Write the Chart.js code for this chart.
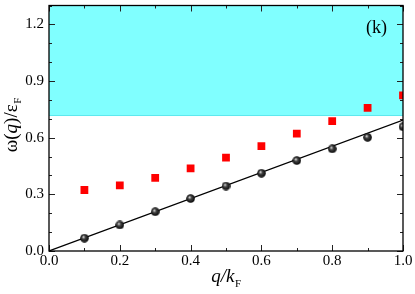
<!DOCTYPE html>
<html lang="en">
<head>
<meta charset="UTF-8">
<title>omega(q) dispersion</title>
<script src="https://cdn.jsdelivr.net/npm/chart.js"></script>
<style>
    html, body { margin: 0; padding: 0; background: #fff; }
    #wrap { width: 415px; height: 294px; }
</style>
</head>
<body>
<div id="wrap"><canvas id="chart" width="415" height="294"></canvas></div>
<script>
    // data
    const qValues = [0.1, 0.2, 0.3, 0.4, 0.5, 0.6, 0.7, 0.8, 0.9, 1.0];
    const blackValues = [0.068, 0.138, 0.208, 0.278, 0.344, 0.412, 0.479, 0.541, 0.602, 0.658];
    const redValues = [0.323, 0.348, 0.387, 0.437, 0.494, 0.555, 0.621, 0.688, 0.758, 0.824];
    const lineX = [0, 1.0];
    const lineY = [0, 0.693];
    const bandStart = 0.72;
    const xTicks = [0, 0.2, 0.4, 0.6, 0.8, 1.0];
    const yTicks = [0, 0.3, 0.6, 0.9, 1.2];

    const serif = '"Liberation Serif", "DejaVu Serif", serif';

    // shaded sphere marker
    function makeSphere(d) {
        const c = document.createElement('canvas');
        c.width = d; c.height = d;
        const g = c.getContext('2d');
        const r = d / 2;
        const grad = g.createRadialGradient(r * 0.75, r * 0.7, 0.3, r, r, r);
        grad.addColorStop(0, '#d8d8d8');
        grad.addColorStop(0.35, '#444');
        grad.addColorStop(1, '#000');
        g.fillStyle = grad;
        g.beginPath();
        g.arc(r, r, r - 0.2, 0, Math.PI * 2);
        g.fill();
        return c;
    }
    const sphere = makeSphere(9);

    // cyan region above bandStart
    const bandPlugin = {
        id: 'band',
        beforeDatasetsDraw(chart) {
            const { ctx, chartArea, scales } = chart;
            const y0 = scales.y.getPixelForValue(bandStart);
            ctx.save();
            ctx.fillStyle = '#80ffff';
            ctx.fillRect(chartArea.left, chartArea.top, chartArea.right - chartArea.left, y0 - chartArea.top);
            ctx.strokeStyle = '#5ce8ee';
            ctx.lineWidth = 1;
            ctx.beginPath();
            ctx.moveTo(chartArea.left, y0 + 0.5);
            ctx.lineTo(chartArea.right, y0 + 0.5);
            ctx.stroke();
            ctx.restore();
        }
    };

    // frame, inward ticks, titles, panel label
    const framePlugin = {
        id: 'frame',
        afterDraw(chart) {
            const { ctx, chartArea: a, scales } = chart;
            ctx.save();
            ctx.strokeStyle = '#222';
            ctx.lineWidth = 1;
            for (let i = 0; i <= 10; i++) {
                const v = i / 10;
                const x = Math.round(scales.x.getPixelForValue(v)) + 0.5;
                const len = i % 2 === 0 ? 6 : 3;
                ctx.beginPath();
                ctx.moveTo(x, a.bottom); ctx.lineTo(x, a.bottom - len);
                ctx.moveTo(x, a.top); ctx.lineTo(x, a.top + len);
                ctx.stroke();
            }
            for (let i = 0; i <= 13; i++) {
                const v = i / 10;
                const y = Math.round(scales.y.getPixelForValue(v)) + 0.5;
                const len = i % 3 === 0 ? 6 : 3;
                ctx.beginPath();
                ctx.moveTo(a.left, y); ctx.lineTo(a.left + len, y);
                ctx.moveTo(a.right, y); ctx.lineTo(a.right - len, y);
                ctx.stroke();
            }
            ctx.strokeStyle = '#000';
            ctx.lineWidth = 1.3;
            ctx.strokeRect(a.left, a.top, a.right - a.left, a.bottom - a.top);

            // x title
            ctx.fillStyle = '#000';
            ctx.textBaseline = 'alphabetic';
            ctx.textAlign = 'left';
            const cx = (a.left + a.right) / 2;
            ctx.font = 'italic 19px ' + serif;
            const w1 = ctx.measureText('q/k').width;
            ctx.font = '11px ' + serif;
            const w2 = ctx.measureText('F').width;
            let x0 = cx - (w1 + w2) / 2;
            ctx.font = 'italic 19px ' + serif;
            ctx.fillText('q/k', x0, 282);
            ctx.font = '11px ' + serif;
            ctx.fillText('F', x0 + w1 + 0.5, 287);

            // y title
            ctx.translate(17, (a.top + a.bottom) / 2 - 3);
            ctx.rotate(-Math.PI / 2);
            const parts = [
                ['ω(', '19px '], ['q', 'italic 19px '], [')/ε', '19px ']
            ];
            let tw = 0;
            parts.forEach(p => { ctx.font = p[1] + serif; tw += ctx.measureText(p[0]).width; });
            ctx.font = '11px ' + serif;
            tw += ctx.measureText('F').width;
            let px = -tw / 2;
            parts.forEach(p => {
                ctx.font = p[1] + serif;
                ctx.fillText(p[0], px, 0);
                px += ctx.measureText(p[0]).width;
            });
            ctx.font = '11px ' + serif;
            ctx.fillText('F', px + 0.5, 4);
            ctx.restore();

            // panel label
            ctx.save();
            ctx.fillStyle = '#000';
            ctx.font = '18px ' + serif;
            ctx.textAlign = 'center';
            ctx.textBaseline = 'middle';
            ctx.fillText('(k)', scales.x.getPixelForValue(0.925), scales.y.getPixelForValue(1.18));
            ctx.restore();
        }
    };

    const keepTicks = list => scale => {
        scale.ticks = list.map(v => ({ value: v }));
    };

    new Chart(document.getElementById('chart'), {
        type: 'scatter',
        data: {
            datasets: [
                {
                    label: 'fit',
                    type: 'line',
                    data: lineX.map((x, i) => ({ x: x, y: lineY[i] })),
                    borderColor: '#000',
                    borderWidth: 1.2,
                    pointRadius: 0,
                    fill: false,
                    order: 3
                },
                {
                    label: 'red',
                    data: qValues.map((q, i) => ({ x: q, y: redValues[i] })),
                    pointStyle: 'rect',
                    pointRadius: 5.5,
                    backgroundColor: '#ff0000',
                    borderColor: '#ff0000',
                    borderWidth: 0,
                    order: 2
                },
                {
                    label: 'black',
                    data: qValues.map((q, i) => ({ x: q, y: blackValues[i] })),
                    pointStyle: sphere,
                    pointRadius: 4.5,
                    order: 1
                }
            ]
        },
        options: {
            responsive: false,
            animation: false,
            events: [],
            layout: { padding: { top: -3, right: 12, left: 0, bottom: 0 } },
            plugins: {
                legend: { display: false },
                tooltip: { enabled: false }
            },
            scales: {
                x: {
                    type: 'linear',
                    min: 0,
                    max: 1.0,
                    afterBuildTicks: keepTicks(xTicks),
                    afterFit: s => { s.height = 43; s.paddingLeft = 0; s.paddingRight = 0; },
                    grid: { display: false, drawTicks: false, tickLength: 0 },
                    border: { display: false },
                    ticks: {
                        color: '#000',
                        padding: 1,
                        maxRotation: 0,
                        font: { family: serif, size: 15 },
                        callback: v => v.toFixed(1)
                    }
                },
                y: {
                    type: 'linear',
                    min: 0,
                    max: 1.3,
                    afterBuildTicks: keepTicks(yTicks),
                    afterFit: s => { s.width = 49; s.paddingTop = 0; s.paddingBottom = 0; },
                    grid: { display: false, drawTicks: false, tickLength: 0 },
                    border: { display: false },
                    ticks: {
                        color: '#000',
                        padding: 5,
                        font: { family: serif, size: 15 },
                        callback: v => v.toFixed(1)
                    }
                }
            }
        },
        plugins: [bandPlugin, framePlugin]
    });
</script>
</body>
</html>
